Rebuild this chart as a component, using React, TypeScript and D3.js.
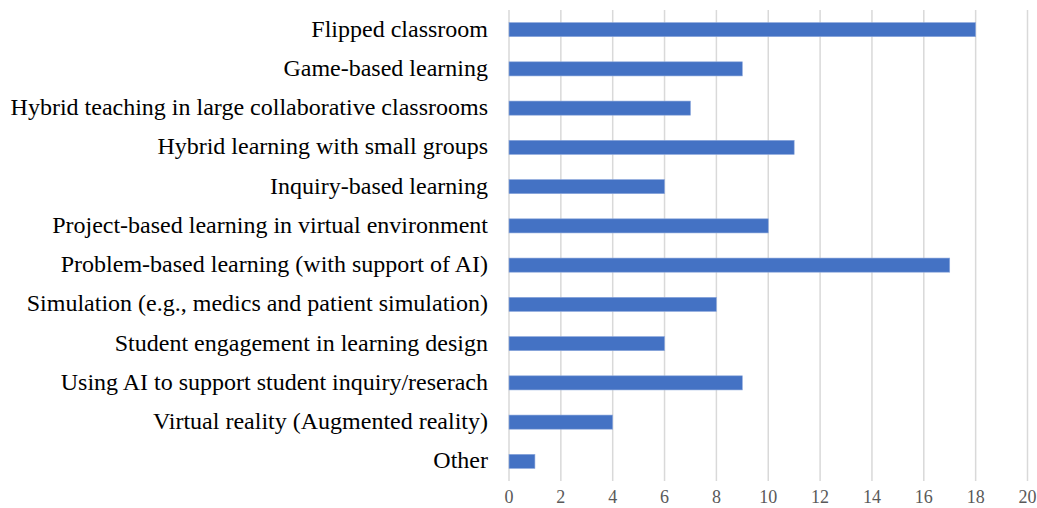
import React from "react";
import * as d3 from "d3";

const categories = [
  "Flipped classroom",
  "Game-based learning",
  "Hybrid teaching in large collaborative classrooms",
  "Hybrid learning with small groups",
  "Inquiry-based learning",
  "Project-based learning in virtual environment",
  "Problem-based learning (with support of AI)",
  "Simulation (e.g., medics and patient simulation)",
  "Student engagement in learning design",
  "Using AI to support student inquiry/reserach",
  "Virtual reality (Augmented reality)",
  "Other",
];
const values = [18, 9, 7, 11, 6, 10, 17, 8, 6, 9, 4, 1];
const ticks = [0, 2, 4, 6, 8, 10, 12, 14, 16, 18, 20];

export default function App() {
  const width = 1037;
  const height = 508;
  const x = d3.scaleLinear().domain([0, 20]).range([509, 1027.5]);
  const y = d3.scaleBand<string>().domain(categories).range([10, 481]).paddingInner(0.64).paddingOuter(0.32);
  const font = "'Liberation Serif', 'Times New Roman', serif";

  return (
    <svg
      width={width}
      height={height}
      style={{ position: "absolute", left: 0, top: 0, background: "white" }}
    >
      <g>
        {ticks.map((t) => (
          <line
            key={t}
            x1={x(t)}
            x2={x(t)}
            y1={10}
            y2={481}
            stroke="#d9d9d9"
            strokeWidth={1.5}
          />
        ))}
      </g>
      <g>
        {categories.map((c, i) => (
          <rect
            key={c}
            x={x(0)}
            y={y(c)}
            width={x(values[i]) - x(0)}
            height={y.bandwidth()}
            fill="#4472C4"
            stroke="#8faadc"
            strokeWidth={0.6}
          />
        ))}
      </g>
      <g>
        {categories.map((c) => (
          <text
            key={c}
            x={488}
            y={(y(c) ?? 0) + y.bandwidth() / 2 - 1}
            textAnchor="end"
            dominantBaseline="central"
            fontFamily={font}
            fontSize={24}
            fill="#000"
          >
            {c}
          </text>
        ))}
      </g>
      <g>
        {ticks.map((t) => (
          <text
            key={t}
            x={x(t)}
            y={497}
            textAnchor="middle"
            dominantBaseline="central"
            fontFamily={font}
            fontSize={18}
            fill="#595959"
          >
            {t}
          </text>
        ))}
      </g>
    </svg>
  );
}
